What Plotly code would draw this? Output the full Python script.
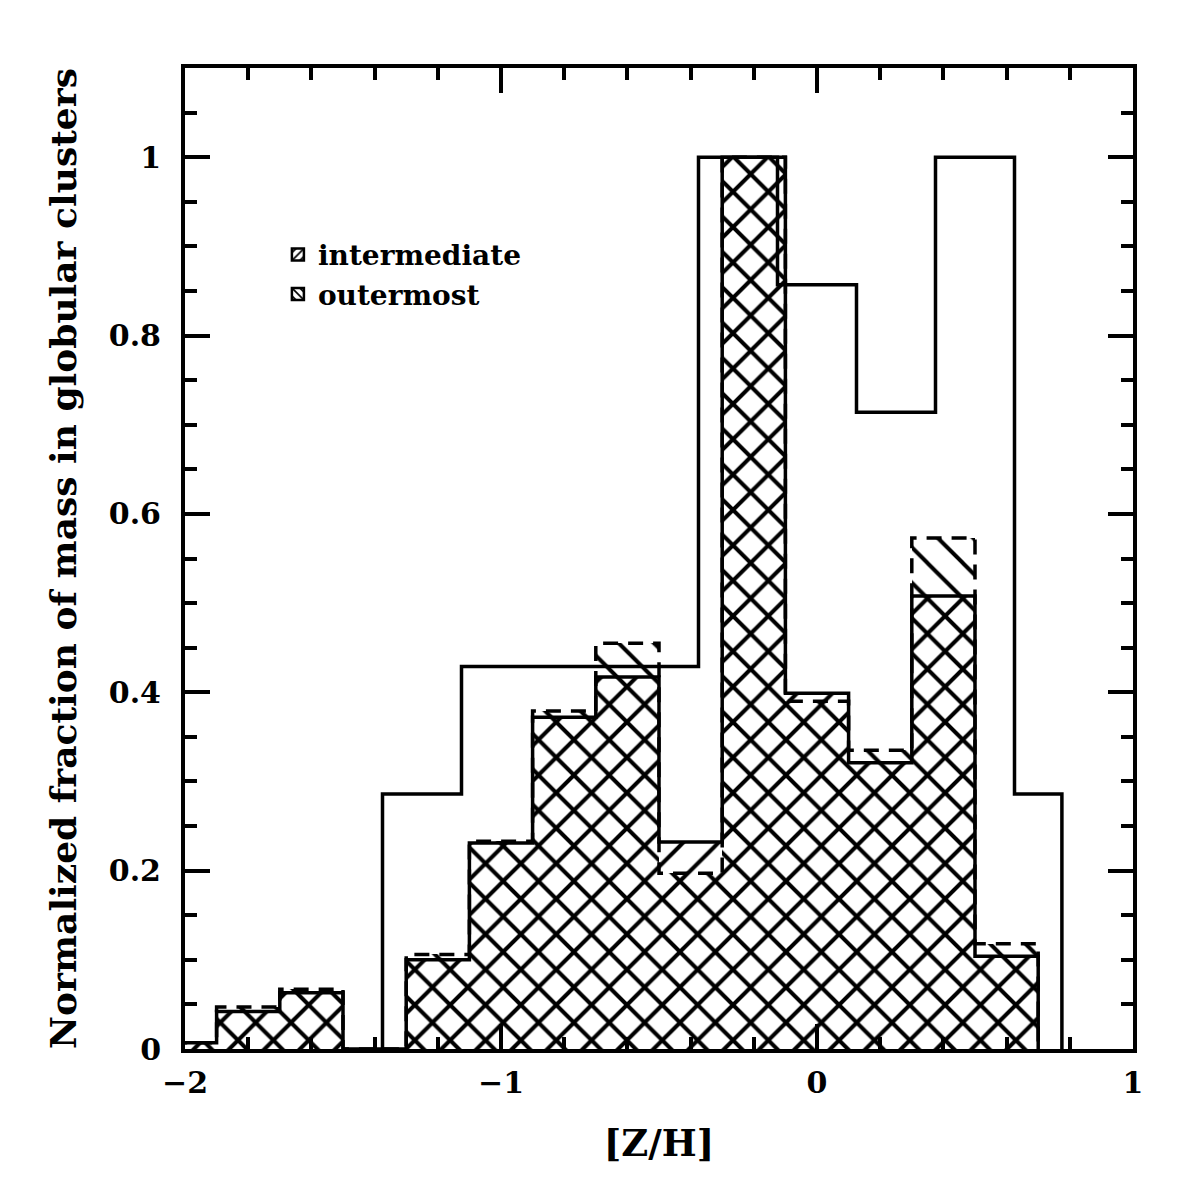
import plotly.graph_objects as go

# Hatched histograms: bin centres in [Z/H], 0.2 wide
zh_centres = [-2.0, -1.8, -1.6, -1.4, -1.2, -1.0, -0.8, -0.6, -0.4, -0.2, 0.0, 0.2, 0.4, 0.6]
bin_width = 0.2
intermediate = [0.007, 0.042, 0.063, 0.0, 0.100, 0.231, 0.372, 0.417, 0.232, 1.0, 0.399, 0.321, 0.508, 0.104]
outermost = [0.007, 0.047, 0.067, 0.0, 0.106, 0.233, 0.379, 0.455, 0.197, 1.0, 0.390, 0.335, 0.573, 0.118]

# Open histogram (all clusters), last bin is narrower
all_edges = [-1.375, -1.125, -0.875, -0.625, -0.375, -0.125, 0.125, 0.375, 0.625, 0.775]
all_clusters = [0.286, 0.429, 0.429, 0.429, 1.0, 0.857, 0.714, 1.0, 0.286]

FONT = 'DejaVu Serif'


def step_outline(edges, values):
    """x/y for an 'hv' line tracing the outline of a histogram"""
    xs = [edges[0]] + list(edges)
    ys = [0] + list(values) + [0]
    return xs, ys


def hatch(shape, size=25, solidity=0.16):
    return dict(shape=shape, fgcolor='black', bgcolor='rgba(0,0,0,0)',
                size=size, solidity=solidity, fillmode='replace')


def main():
    hatched_edges = [c - bin_width / 2 for c in zh_centres] + [zh_centres[-1] + bin_width / 2]

    fig = go.Figure()

    # hatched fills
    for vals, shape in [(intermediate, '/'), (outermost, '\\')]:
        fig.add_trace(go.Bar(
            x=zh_centres, y=vals, width=bin_width,
            marker=dict(color='rgba(0,0,0,0)', line=dict(width=0), pattern=hatch(shape)),
            showlegend=False,
        ))

    # outlines
    x, y = step_outline(all_edges, all_clusters)
    fig.add_trace(go.Scatter(x=x, y=y, mode='lines', line=dict(shape='hv', color='black', width=3.5),
                             showlegend=False))
    x, y = step_outline(hatched_edges, outermost)
    fig.add_trace(go.Scatter(x=x, y=y, mode='lines',
                             line=dict(shape='hv', color='black', width=3.5, dash='15px,10px'),
                             showlegend=False))
    x, y = step_outline(hatched_edges, intermediate)
    fig.add_trace(go.Scatter(x=x, y=y, mode='lines', line=dict(shape='hv', color='black', width=3.5),
                             showlegend=False))

    # legend keys
    for name, shape in [('intermediate', '/'), ('outermost', '\\')]:
        fig.add_trace(go.Bar(
            x=[None], y=[None], name=name,
            marker=dict(color='rgba(0,0,0,0)', line=dict(width=2.5, color='black'),
                        pattern=hatch(shape, size=7, solidity=0.3)),
        ))

    axis_style = dict(
        showline=True, linecolor='black', linewidth=4, mirror='ticks',
        ticks='inside', ticklen=25, tickwidth=4, tickcolor='black',
        showgrid=False, zeroline=False,
        tickfont=dict(family=FONT, size=30, color='black', weight='bold'),
    )
    fig.update_xaxes(range=[-2, 1], dtick=1, tick0=0, ticklabelstandoff=4,
                     minor=dict(dtick=0.2, ticks='inside', ticklen=12, tickwidth=4, tickcolor='black'),
                     title=dict(text='[Z/H]', font=dict(family=FONT, size=37, color='black', weight='bold'),
                                standoff=32),
                     **axis_style)
    fig.update_yaxes(range=[0, 1.1], dtick=0.2, tick0=0, ticklabelstandoff=14,
                     minor=dict(dtick=0.05, ticks='inside', ticklen=12, tickwidth=4, tickcolor='black'),
                     title=dict(text='Normalized fraction of mass in globular clusters',
                                font=dict(family=FONT, size=36, color='black', weight='bold'), standoff=22),
                     **axis_style)

    fig.update_layout(
        width=1196, height=1196,
        margin=dict(l=177, r=71, t=60, b=155),
        paper_bgcolor='white', plot_bgcolor='white',
        barmode='overlay', bargap=0,
        font=dict(family=FONT, color='black'),
        legend=dict(x=0.098, y=0.835, xanchor='left', yanchor='top',
                    bgcolor='rgba(0,0,0,0)', font=dict(family=FONT, size=28, color='black', weight='bold'),
                    tracegroupgap=0, itemwidth=30),
    )

    fig.write_html('out.html')


if __name__ == '__main__':
    main()
